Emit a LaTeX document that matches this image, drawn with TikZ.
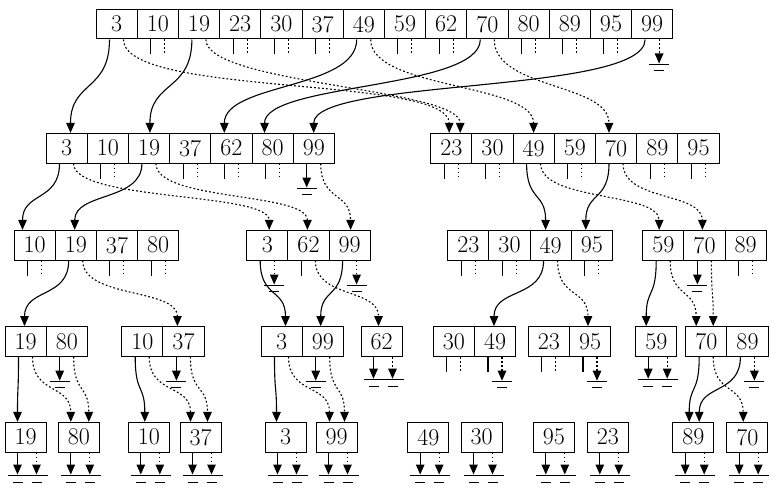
\documentclass[tikz,border=0pt]{standalone}
\usetikzlibrary{arrows.meta}

\begin{document}
\begin{tikzpicture}[x=1pt, y=-1pt,
        every node/.style={font=\fontsize{24}{28}\selectfont},
        cellbox/.style={draw, line width=1pt, minimum width=41.2pt, minimum height=29.6pt, inner sep=0pt},
        solidptr/.style={line width=1.1pt, -{Triangle[length=10pt,width=8.5pt]}},
        dotptr/.style={solidptr, dash pattern=on 1.8pt off 2.2pt},
        stub/.style={line width=1.1pt},
        dotstub/.style={stub, dash pattern=on 1.8pt off 2.2pt},
        earth/.style={line width=1.1pt},
        wire/.style={to path={.. controls +(0,#1) and +(0,-#1) .. (\tikztotarget)}},
        wire/.default=38
    ]
        \useasboundingbox (0,0) rectangle (771,487);

        \foreach \v [count=\i] in {3,10,19,23,30,37,49,59,62,70,80,89,95,99}
            \node[cellbox] (r1-\v) at ({96+41.2*(\i-0.5)},24.2) {\v};
        \foreach \s/\l in {46/{3,10,19,37,62,80,99},430.7/{23,30,49,59,70,89,95}}
            \foreach \v [count=\i] in \l
                \node[cellbox] (r2-\v) at ({\s+41.2*(\i-0.5)},148.2) {\v};
        \foreach \s/\l in {14/{10,19,37,80},246.7/{3,62,99},447.7/{23,30,49,95},642.7/{59,70,89}}
            \foreach \v [count=\i] in \l
                \node[cellbox] (r3-\v) at ({\s+41.2*(\i-0.5)},245.2) {\v};
        \foreach \s/\l in {5/{19,80},121.7/{10,37},261/{3,99},361/{62},433.3/{30,49},528.3/{23,95},635.7/{59},685.7/{70,89}}
            \foreach \v [count=\i] in \l
                \node[cellbox] (r4-\v) at ({\s+41.2*(\i-0.5)},341.4) {\v};
        \foreach \s/\v in {5/19,58.3/80,128.3/10,180/37,265/3,316/99,407.7/49,461/30,533.3/95,587.3/23,672.7/89,726.7/70}
            \node[cellbox] (r5-\v) at ({\s+20.6},437.2) {\v};

        \foreach \n in {r1-10,r1-23,r1-30,r1-37,r1-59,r1-62,r1-80,r1-89,r1-95,r2-10,r2-37,r2-62,r2-80,r2-23,r2-30,r2-59,r2-89,r2-95,r3-10,r3-37,r3-80,r3-23,r3-30,r3-95,r3-89,r4-30,r4-23} {
            \draw[stub] ([xshift=14pt]\n.south west) -- ++(0,15);
            \draw[dotstub] ([xshift=28pt]\n.south west) -- ++(0,15);
        }
        \foreach \n in {r3-62,r4-49,r4-95}
            \draw[stub] ([xshift=14pt]\n.south west) -- ++(0,15);

        \foreach \n/\o/\s in {r1-99/28/dotptr,r2-99/14/solidptr,r3-3/28/dotptr,r3-99/28/dotptr,r3-70/14/solidptr,r4-80/14/solidptr,r4-37/14/solidptr,r4-99/14/solidptr,r4-49/28/dotptr,r4-95/28/dotptr,r4-89/28/dotptr} {
            \draw[\s] ([xshift=\o pt]\n.south west) -- ++(0,24);
            \draw[earth] ([xshift=\o pt]\n.south west) ++(-10,25) -- ++(20,0) ++(-15,6) -- ++(10,0);
        }
        \foreach \n in {r4-62,r4-59,r5-19,r5-80,r5-10,r5-37,r5-3,r5-99,r5-49,r5-30,r5-95,r5-23,r5-89,r5-70} {
            \draw[solidptr] ([xshift=13pt]\n.south west) -- ++(0,22);
            \draw[dotptr] ([xshift=32pt]\n.south west) -- ++(0,22);
            \draw[earth] ([xshift=3pt]\n.south west) ++(0,23) -- ++(40,0) ++(-35,7) -- ++(10,0) ++(9,0) -- ++(10,0);
        }

        \draw[solidptr] ([xshift=14pt]r1-3.south west)  to[wire=52] ([xshift=25pt]r2-3.north west);
        \draw[dotptr]   ([xshift=28pt]r1-3.south west)  to[wire=58] ([xshift=19pt]r2-23.north west);
        \draw[solidptr] ([xshift=14pt]r1-19.south west) to[wire=52] ([xshift=22pt]r2-19.north west);
        \draw[dotptr]   ([xshift=28pt]r1-19.south west) to[wire=45] ([xshift=30pt]r2-23.north west);
        \draw[solidptr] ([xshift=14pt]r1-49.south west) to[wire=50] ([xshift=14pt]r2-62.north west);
        \draw[dotptr]   ([xshift=28pt]r1-49.south west) to[wire=50] ([xshift=21pt]r2-49.north west);
        \draw[solidptr] ([xshift=14pt]r1-70.south west) to[wire=50] ([xshift=13pt]r2-80.north west);
        \draw[dotptr]   ([xshift=28pt]r1-70.south west) to[wire=50] ([xshift=14pt]r2-70.north west);
        \draw[solidptr] ([xshift=14pt]r1-99.south west) to[wire=55] ([xshift=21pt]r2-99.north west);

        \draw[solidptr] ([xshift=14pt]r2-3.south west)  to[wire] ([xshift=9pt]r3-10.north west);
        \draw[dotptr]   ([xshift=28pt]r2-3.south west)  to[wire] ([xshift=23pt]r3-3.north west);
        \draw[solidptr] ([xshift=14pt]r2-19.south west) to[wire] ([xshift=20pt]r3-19.north west);
        \draw[dotptr]   ([xshift=28pt]r2-19.south west) to[wire] ([xshift=20pt]r3-62.north west);
        \draw[dotptr]   ([xshift=28pt]r2-99.south west) to[wire] ([xshift=22pt]r3-99.north west);
        \draw[solidptr] ([xshift=14pt]r2-49.south west) to[wire] ([xshift=16pt]r3-49.north west);
        \draw[dotptr]   ([xshift=28pt]r2-49.south west) to[wire] ([xshift=17pt]r3-59.north west);
        \draw[solidptr] ([xshift=14pt]r2-70.south west) to[wire] ([xshift=15pt]r3-95.north west);
        \draw[dotptr]   ([xshift=28pt]r2-70.south west) to[wire] ([xshift=19pt]r3-70.north west);

        \draw[solidptr] ([xshift=14pt]r3-19.south west) to[wire] ([xshift=20pt]r4-19.north west);
        \draw[dotptr]   ([xshift=28pt]r3-19.south west) to[wire] ([xshift=15pt]r4-37.north west);
        \draw[solidptr] ([xshift=14pt]r3-3.south west)  to[wire] ([xshift=25pt]r4-3.north west);
        \draw[dotptr]   ([xshift=28pt]r3-62.south west) to[wire] ([xshift=18pt]r4-62.north west);
        \draw[solidptr] ([xshift=14pt]r3-99.south west) to[wire] ([xshift=19pt]r4-99.north west);
        \draw[solidptr] ([xshift=14pt]r3-49.south west) to[wire] ([xshift=20pt]r4-49.north west);
        \draw[dotptr]   ([xshift=28pt]r3-49.south west) to[wire] ([xshift=19pt]r4-95.north west);
        \draw[solidptr] ([xshift=14pt]r3-59.south west) to[wire] ([xshift=11pt]r4-59.north west);
        \draw[dotptr]   ([xshift=28pt]r3-59.south west) to[wire] ([xshift=11pt]r4-70.north west);
        \draw[dotptr]   ([xshift=28pt]r3-70.south west) to[wire] ([xshift=28pt]r4-70.north west);

        \draw[solidptr] ([xshift=14pt]r4-19.south west) to[wire] ([xshift=13pt]r5-19.north west);
        \draw[dotptr]   ([xshift=28pt]r4-19.south west) to[wire] ([xshift=13pt]r5-80.north west);
        \draw[dotptr]   ([xshift=28pt]r4-80.south west) to[wire] ([xshift=31pt]r5-80.north west);
        \draw[solidptr] ([xshift=14pt]r4-10.south west) to[wire] ([xshift=17pt]r5-10.north west);
        \draw[dotptr]   ([xshift=28pt]r4-10.south west) to[wire] ([xshift=11pt]r5-37.north west);
        \draw[dotptr]   ([xshift=28pt]r4-37.south west) to[wire] ([xshift=28pt]r5-37.north west);
        \draw[solidptr] ([xshift=14pt]r4-3.south west)  to[wire] ([xshift=12pt]r5-3.north west);
        \draw[dotptr]   ([xshift=28pt]r4-3.south west)  to[wire] ([xshift=14pt]r5-99.north west);
        \draw[dotptr]   ([xshift=28pt]r4-99.south west) to[wire] ([xshift=29pt]r5-99.north west);
        \draw[solidptr] ([xshift=14pt]r4-70.south west) to[wire] ([xshift=17pt]r5-89.north west);
        \draw[dotptr]   ([xshift=28pt]r4-70.south west) to[wire] ([xshift=17pt]r5-70.north west);
        \draw[solidptr] ([xshift=14pt]r4-89.south west) to[wire] ([xshift=27pt]r5-89.north west);
    \end{tikzpicture}
\end{document}
